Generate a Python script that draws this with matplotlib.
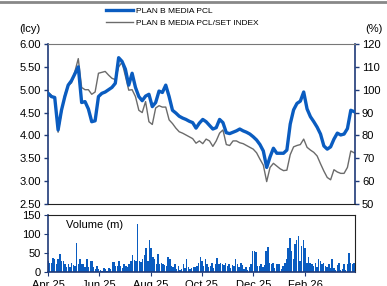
import numpy as np
import pandas as pd
import matplotlib
matplotlib.use('Agg')
import matplotlib.pyplot as plt
from matplotlib.lines import Line2D

plt.rcParams['font.family'] = ['Liberation Sans', 'DejaVu Sans']

# share price (lcy), sampled every 4 days from 1 Apr 2025
price = [4.92, 4.85, 4.83, 4.12, 4.55, 4.85, 5.10, 5.20, 5.35, 5.50,
         4.72, 4.74, 4.58, 4.30, 4.32, 4.85, 4.92, 4.95, 5.00, 5.05,
         5.14, 5.70, 5.62, 5.45, 5.10, 5.36, 5.05, 4.85, 4.76, 4.86,
         4.90, 4.63, 4.72, 4.97, 4.94, 5.10, 4.85, 4.55, 4.49, 4.42,
         4.38, 4.35, 4.31, 4.28, 4.16, 4.27, 4.35, 4.30, 4.22, 4.14,
         4.17, 4.35, 4.28, 4.06, 4.04, 4.07, 4.10, 4.14, 4.10, 4.07,
         4.03, 3.97, 3.90, 3.80, 3.66, 3.30, 3.53, 3.72, 3.61, 3.61,
         3.61, 3.68, 4.25, 4.56, 4.70, 4.75, 4.95, 4.58, 4.41, 4.30,
         4.18, 4.03, 3.77, 3.70, 3.75, 3.92, 4.05, 4.01, 4.03, 4.15,
         4.55, 4.52]

# relative to SET index (%)
rel = [99.0, 97.6, 96.0, 81.4, 90.0, 98.0, 102.0, 103.0, 108.0, 113.6,
       101.0, 100.0, 100.0, 98.0, 99.0, 107.2, 107.6, 108.0, 106.4, 105.0,
       104.4, 110.0, 112.0, 106.0, 99.8, 100.0, 97.0, 91.0, 90.0, 94.8,
       86.0, 84.8, 92.0, 93.0, 92.4, 92.4, 86.8, 85.2, 83.2, 81.6,
       81.0, 80.2, 79.4, 78.6, 76.6, 77.6, 76.4, 78.4, 77.6, 75.2,
       77.6, 81.0, 82.4, 76.0, 75.6, 77.6, 77.6, 76.8, 76.4, 75.6,
       74.8, 74.0, 72.4, 69.6, 67.0, 59.8, 66.0, 67.8, 66.6, 65.4,
       64.6, 64.8, 71.6, 75.0, 75.6, 76.0, 78.4, 74.8, 73.6, 72.6,
       71.0, 67.6, 64.4, 61.6, 60.6, 65.0, 64.0, 63.4, 63.4, 66.0,
       73.2, 72.4]

# volume (m shares)
volume = [28, 25, 25, 38, 33, 22, 35, 48, 30, 30, 22, 12, 22, 12, 24, 18,
          15, 77, 20, 35, 22, 20, 13, 33, 12, 30, 28, 12, 8, 15, 7, 5,
          3, 10, 8, 3, 10, 8, 27, 27, 15, 17, 30, 15, 10, 20, 17, 12,
          20, 28, 45, 32, 30, 127, 30, 27, 35, 45, 62, 30, 85, 63, 40, 35,
          20, 48, 22, 25, 20, 18, 15, 40, 35, 15, 12, 20, 8, 15, 5, 8,
          20, 10, 33, 12, 8, 10, 12, 12,
          15, 25, 40, 28, 15, 35, 22, 12, 15, 25, 10, 20, 38, 20, 25, 22,
          18, 25, 15, 20, 10, 18, 15, 35, 20, 12, 25, 18, 8, 12, 5, 12,
          20, 55, 55, 53, 15, 15, 20, 12, 18, 55, 65, 25, 20, 25, 10, 20,
          20, 20, 8, 15, 25, 35, 62, 90, 55, 35, 75, 85, 95, 30, 68, 85,
          62, 25, 40, 25, 20, 15, 25, 12, 35, 28, 20, 25, 15, 12, 20, 10,
          33, 10, 5, 18, 25, 5, 8, 20, 5, 20, 50, 25, 20, 25]

months = ['2025-04-01', '2025-06-01', '2025-08-01', '2025-10-01', '2025-12-01', '2026-02-01']
month_labels = ['Apr 25', 'Jun 25', 'Aug 25', 'Oct 25', 'Dec 25', 'Feb 26']

dates = pd.date_range('2025-04-01', periods=len(price), freq='4D')
vdates = pd.date_range('2025-04-01', '2026-03-31', periods=len(volume))

blue = '#0a5cc0'
grey = '#6b6b6b'
navy = '#1f3a78'

W, H = 387, 286
fig = plt.figure(figsize=(W / 100, H / 100), dpi=100)

x0, x1 = 48 / W, 355 / W
ax = fig.add_axes([x0, 1 - 204 / H, x1 - x0, 160 / H])
ax2 = ax.twinx()

ax.plot(dates, price, color=blue, lw=2.4, zorder=3)
ax2.plot(dates, rel, color=grey, lw=1.0)
ax.set_zorder(ax2.get_zorder() + 1)
ax.patch.set_visible(False)

xlim = (pd.Timestamp('2025-04-01'), pd.Timestamp('2026-04-01'))
ax.set_xlim(xlim)
ax.set_ylim(2.5, 6.0)
ax.set_yticks(np.arange(2.5, 6.01, 0.5))
ax.set_yticklabels(['%.2f' % v for v in np.arange(2.5, 6.01, 0.5)])
ax2.set_ylim(50, 120)
ax2.set_yticks(range(50, 121, 10))
ax.set_xticks([])

for a in (ax, ax2):
    a.tick_params(axis='y', labelsize=8, length=3, width=1, color=navy, pad=2)
    for s in a.spines.values():
        s.set_visible(False)
ax.spines['left'].set_visible(True)
ax.spines['left'].set_color(navy)
ax.spines['left'].set_linewidth(1.2)
ax2.spines['right'].set_visible(True)
ax2.spines['right'].set_color(navy)
ax2.spines['right'].set_linewidth(1.2)
ax.spines['bottom'].set_visible(True)
ax.spines['bottom'].set_color('#222222')
ax.spines['top'].set_visible(True)
ax.spines['top'].set_color('#777777')

fig.text(40 / W, 1 - 29 / H, '(lcy)', fontsize=8, ha='right', va='center')
fig.text(383 / W, 1 - 29 / H, '(%)', fontsize=8, ha='right', va='center')

handles = [Line2D([], [], color=blue, lw=2.4), Line2D([], [], color=grey, lw=1)]
fig.legend(handles, ['PLAN B MEDIA PCL', 'PLAN B MEDIA PCL/SET INDEX'],
           loc='upper left', bbox_to_anchor=(106 / W, 1 - 7 / H), frameon=False,
           fontsize=6, handlelength=3.2, handletextpad=0.4, labelspacing=0.55,
           borderpad=0, borderaxespad=0)

# volume panel
axv = fig.add_axes([x0, 1 - 272 / H, x1 - x0, 57 / H])
axv.bar(vdates, volume, width=1.7, color=blue, edgecolor='none')
axv.set_xlim(xlim)
axv.set_ylim(0, 150)
axv.set_yticks([0, 50, 100, 150])
axv.set_xticks(pd.to_datetime(months))
axv.set_xticklabels(month_labels)
axv.tick_params(axis='y', labelsize=8, length=3, color=navy, pad=2)
axv.tick_params(axis='x', labelsize=8, length=3, color=navy, pad=3)
for s in axv.spines.values():
    s.set_color('#222222')
axv.spines['left'].set_color(navy)
axv.spines['left'].set_linewidth(1.2)
axv.spines['bottom'].set_color(navy)
axv.spines['bottom'].set_linewidth(1.2)
axv.text(0.06, 0.82, 'Volume (m)', transform=axv.transAxes, fontsize=8, va='center')

# thin rule across the very top
fig.add_artist(Line2D([0, 1], [1 - 1.5 / H, 1 - 1.5 / H], color='#888888', lw=2))

fig.savefig('out.png', dpi=100)
